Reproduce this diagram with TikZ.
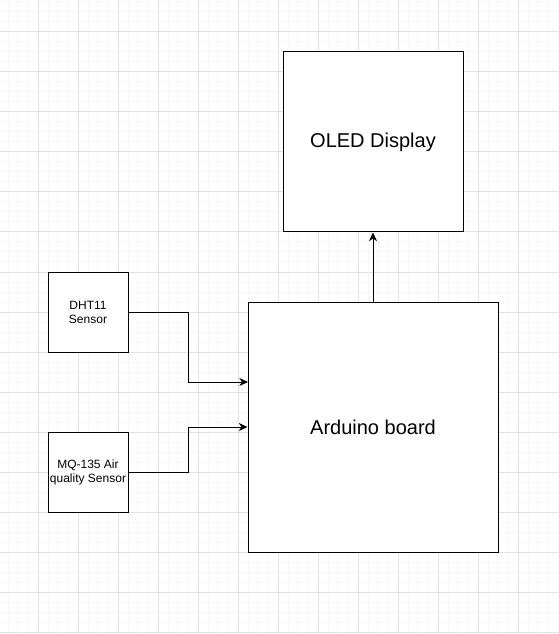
\documentclass[tikz,border=0pt]{standalone}
\usepackage{fontspec}
\setmainfont{Liberation Sans}
\usepackage{tikz}
\usetikzlibrary{arrows.meta}
\usetikzlibrary{positioning}

\definecolor{gridmajor}{RGB}{226,226,226}
\definecolor{gridminor}{RGB}{247,247,247}

\tikzset{
  block/.style={draw, rectangle, fill=white, line width=0.75pt, align=center, inner sep=0pt},
  small/.style={font=\fontsize{9}{10.5}\selectfont},
  large/.style={font=\fontsize{15}{18}\selectfont},
  conn/.style={line width=0.75pt, -{Stealth[length=6.5pt, width=6pt, inset=2pt]}}
}

\begin{document}
\begin{tikzpicture}[x=0.75pt, y=-0.75pt]
\useasboundingbox (0,0) rectangle (558,634);
\fill[white] (0,0) rectangle (558,634);

% background grid
\foreach \x in {8,18,...,558} \draw[gridminor, line width=0.75pt] (\x,0) -- (\x,634);
\foreach \y in {2,12,...,634} \draw[gridminor, line width=0.75pt] (0,\y) -- (558,\y);
\foreach \x in {38,78,...,518} \draw[gridmajor, line width=0.75pt] (\x,0) -- (\x,634);
\foreach \y in {32,72,...,632} \draw[gridmajor, line width=0.75pt] (0,\y) -- (558,\y);

\node[block, small, minimum width=60pt, minimum height=60pt] (DHT) at (88,312) {DHT11\\Sensor};
\node[block, small, minimum width=60pt, minimum height=60pt] (MQ) at (88,472) {MQ-135 Air\\quality Sensor};
\node[block, large, minimum width=187.5pt, minimum height=187.5pt] (Arduino) at (373,427) {Arduino board};
\node[block, large, minimum width=135pt, minimum height=135pt] (OLED) at (373,142) {OLED Display};

\coordinate (DHTin) at (248,382);

\draw[conn] (DHT.east) -- ++(60,0) |- (DHTin);
\draw[conn] (MQ.east) -- ++(60,0) |- (Arduino.west);
\draw[conn] (Arduino.north) -- (OLED.south);
\end{tikzpicture}
\end{document}
